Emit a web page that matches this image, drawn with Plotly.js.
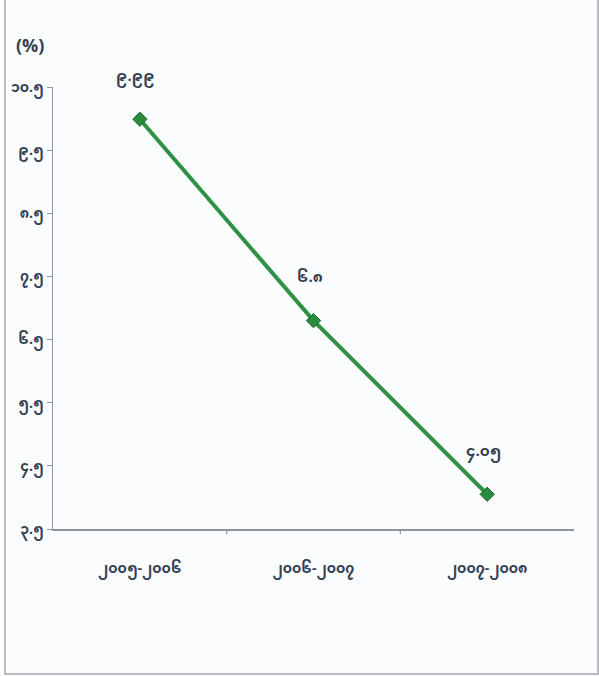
<!DOCTYPE html>
<html>
<head>
<meta charset="utf-8">
<script src="https://cdn.plot.ly/plotly-3.0.1.min.js"></script>
<style>
html,body{margin:0;padding:0;background:#fbfcfe;}
#wrap{position:relative;width:599px;height:676px;overflow:hidden;}
#chart{position:absolute;left:0;top:0;width:599px;height:676px;}
#frame{position:absolute;left:4px;top:-3px;width:591px;height:674px;border:2px solid #b9bdc2;pointer-events:none;}
</style>
</head>
<body>
<div id="wrap"><div id="chart"></div><div id="frame"></div></div>
<script>
const categories = ["၂၀၀၅-၂၀၀၆", "၂၀၀၆-၂၀၀၇", "၂၀၀၇-၂၀၀၈"];
const values = [9.99, 6.8, 4.05];
const valueLabels = ["၉.၉၉", "၆.၈", "၄.၀၅"];
const yTickVals = [3.5, 4.5, 5.5, 6.5, 7.5, 8.5, 9.5, 10.5];
const yTickText = ["၃.၅", "၄.၅", "၅.၅", "၆.၅", "၇.၅", "၈.၅", "၉.၅", "၁၀.၅"];

const fontFam = "'Noto Sans Myanmar','Padauk','Myanmar Text','Noto Sans','DejaVu Sans',sans-serif";
const textColor = "#344152";

const trace = {
  x: categories,
  y: values,
  type: "scatter",
  mode: "lines+markers",
  line: {color: "#2e9144", width: 4},
  marker: {symbol: "diamond", size: 11, color: "#2a8a3e", line: {color: "#1d6a2c", width: 1}},
  hoverinfo: "none"
};

const annotations = categories.map((c, i) => ({
  x: c, y: values[i], xref: "x", yref: "y",
  text: "<b>" + valueLabels[i] + "</b>", showarrow: false,
  yshift: 42, xshift: -4,
  font: {family: fontFam, size: 15, color: textColor}
}));
annotations.push({
  xref: "paper", yref: "paper", x: -0.045, y: 1.09, xanchor: "center", yanchor: "middle",
  text: "<b>(%)</b>", showarrow: false,
  font: {family: fontFam, size: 18, color: textColor}
});

const layout = {
  width: 599, height: 676,
  margin: {l: 53, r: 25, t: 87, b: 147},
  paper_bgcolor: "rgba(0,0,0,0)",
  plot_bgcolor: "rgba(0,0,0,0)",
  showlegend: false,
  xaxis: {
    type: "category",
    range: [-0.5, 2.5],
    showline: true, linecolor: "#8f959c", linewidth: 1.5,
    showgrid: false, zeroline: false,
    ticks: "",
    tickvals: categories,
    ticktext: categories.map(c => "<b>" + c + "</b>"),
    tickfont: {family: fontFam, size: 14, color: textColor},
    ticklabelstandoff: 26
  },
  yaxis: {
    range: [3.5, 10.5],
    showline: true, linecolor: "#8f959c", linewidth: 1.5,
    showgrid: false, zeroline: false,
    tickvals: yTickVals, ticktext: yTickText.map(t => "<b>" + t + "</b>"),
    ticks: "outside", ticklen: 5, tickcolor: "#8f959c",
    tickfont: {family: fontFam, size: 14, color: textColor}
  },
  shapes: [1, 2].map(k => ({
    type: "line", xref: "x", yref: "paper",
    x0: k - 0.5, x1: k - 0.5, y0: 0, y1: -0.012,
    line: {color: "#8f959c", width: 1.2}
  })),
  annotations: annotations
};

Plotly.newPlot("chart", [trace], layout, {displayModeBar: false, staticPlot: true});
</script>
</body>
</html>
